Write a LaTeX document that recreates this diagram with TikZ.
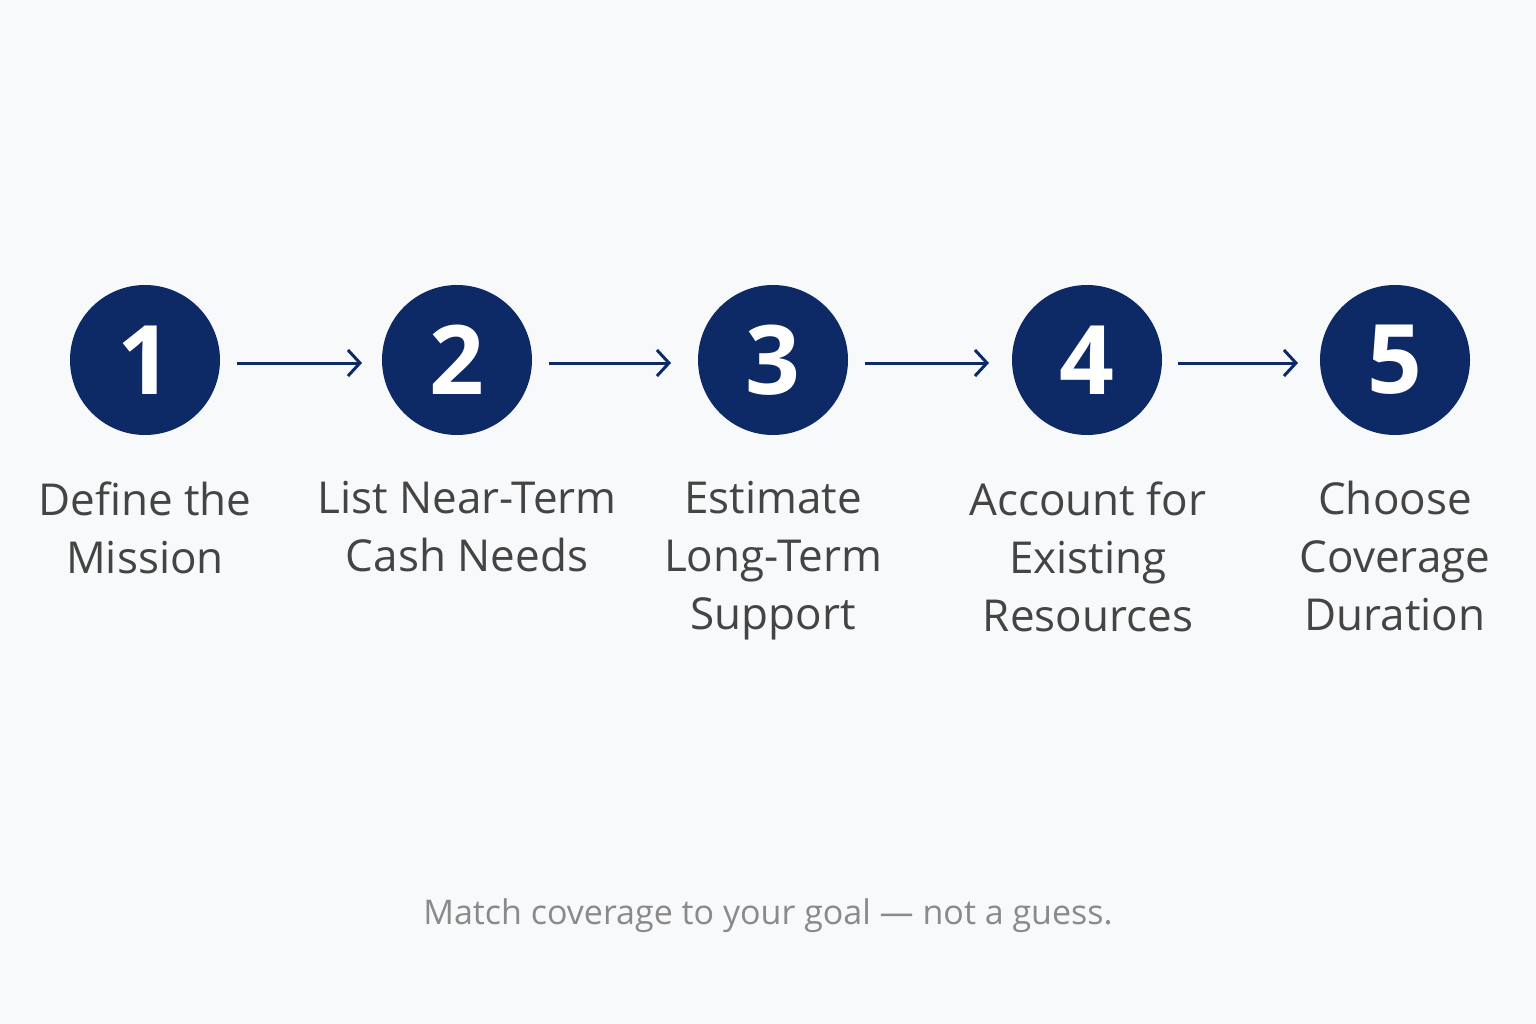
\documentclass[tikz,border=0pt]{standalone}
\usepackage{fontspec}
\setmainfont{Open Sans}
\usetikzlibrary{arrows.meta}
\definecolor{navy}{HTML}{0D2A66}
\definecolor{lbl}{HTML}{444444}
\definecolor{foot}{HTML}{8A8A8A}
\definecolor{bg}{HTML}{F8F9FA}
\begin{document}
\begin{tikzpicture}[x=1pt,y=-1pt,
  stepcirc/.style={circle,fill=navy,minimum size=150pt,inner sep=0pt,text=white,font=\fontsize{96}{96}\selectfont\bfseries},
  lab/.style={anchor=north,align=center,text=lbl,font=\fontsize{44}{58}\selectfont},
  conn/.style={draw=navy,line width=3pt,-{Straight Barb[length=12pt,width=26pt,line width=3pt]}}]
\fill[bg] (0,0) rectangle (1536,1024);
\useasboundingbox (0,0) rectangle (1536,1024);
\foreach \i/\x in {1/145,2/457,3/773,4/1087,5/1395}{
  \node[stepcirc] (c\i) at (\x,360) {\i};
}
\node[lab] (l1) at (145,478) {Define the\\Mission};
\node[lab] (l2) at (467,478) {List Near-Term\\Cash Needs};
\node[lab] (l3) at (773,478) {Estimate\\Long-Term\\Support};
\node[lab] (l4) at (1088,478) {Account for\\Existing\\Resources};
\node[lab] (l5) at (1395,478) {Choose\\Coverage\\Duration};
\coordinate (a1s) at (237,363); \coordinate (a1e) at (362,363);
\coordinate (a2s) at (549,363); \coordinate (a2e) at (671,363);
\coordinate (a3s) at (865,363); \coordinate (a3e) at (989,363);
\coordinate (a4s) at (1178,363); \coordinate (a4e) at (1298,363);
\foreach \i in {1,2,3,4}{\draw[conn] (a\i s) -- (a\i e);}
\node[text=foot,font=\fontsize{34}{40}\selectfont] (ft) at (768,916) {Match coverage to your goal — not a guess.};
\end{tikzpicture}
\end{document}
